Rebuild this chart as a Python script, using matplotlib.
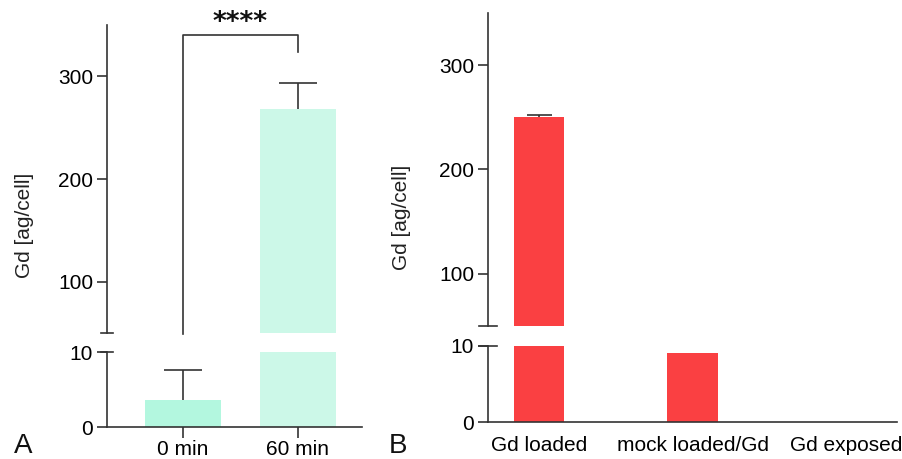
import numpy as np
import matplotlib
matplotlib.use('Agg')
import matplotlib.pyplot as plt

plt.rcParams['font.family'] = ['Liberation Sans', 'DejaVu Sans']

#%% data
a_groups = ['0 min', '60 min']
a_means = [3.6, 268]
a_err = [4.0, 26]
a_colors = ['#b3f7df', '#ccf8e8']

b_groups = ['Gd loaded', 'mock loaded/Gd', 'Gd exposed']
b_means = [250, 9.1, 0]
b_err = [2, 0, 0]
b_color = '#fa4042'

dark = '#333333'
fs = 15
lw = 1.2

fig = plt.figure(figsize=(9.03, 4.59), dpi=100)

def broken_panel(left, width, up_box, low_box, groups, means, errs, colors, barw, xlim, capsize, xticks):
    ax_up = fig.add_axes([left, up_box[0], width, up_box[1]])
    ax_lo = fig.add_axes([left, low_box[0], width, low_box[1]])
    x = np.arange(len(groups))
    for ax in (ax_up, ax_lo):
        ax.bar(x, means, width=barw, color=colors, zorder=2)
        for xi, m, e in zip(x, means, errs):
            if e > 0:
                _, caps, _ = ax.errorbar(xi, m, yerr=[[0], [e]], color=dark, elinewidth=lw,
                                         capsize=capsize, capthick=lw, zorder=3)
                caps[0].set_visible(False)  # only the upper cap
        ax.set_xlim(*xlim)
        for s in ['top', 'right']:
            ax.spines[s].set_visible(False)
        ax.spines['left'].set_linewidth(lw)
        ax.spines['left'].set_color(dark)
        ax.spines['bottom'].set_linewidth(lw)
        ax.spines['bottom'].set_color(dark)
        ax.tick_params(axis='y', length=7, width=lw, color=dark, labelsize=fs, pad=3)
    ax_up.set_ylim(50, 350)
    ax_up.set_yticks([100, 200, 300])
    ax_up.spines['bottom'].set_visible(False)
    ax_up.set_xticks([])
    ax_lo.set_ylim(0, 10)
    ax_lo.set_yticks([0, 10])
    ax_lo.set_xticks(x)
    ax_lo.set_xticklabels(groups)
    if xticks:
        ax_lo.tick_params(axis='x', length=8, width=lw, color=dark, labelsize=fs, pad=1)
    else:
        ax_lo.tick_params(axis='x', length=0, labelsize=fs, pad=10)
    # break marks
    ax_up.plot([-0.022, 0.022], [0, 0], transform=ax_up.transAxes, color=dark, lw=lw, clip_on=False)
    ax_lo.plot([-0.022, 0.022], [1, 1], transform=ax_lo.transAxes, color=dark, lw=lw, clip_on=False)
    return ax_up, ax_lo

#%% panel A
a_up, a_lo = broken_panel(0.1185, 0.2824, (0.2745, 0.671), (0.0697, 0.1634),
                          a_groups, a_means, a_err, a_colors, 0.66, (-0.661, 1.557), 14, True)

# significance bracket
a_up.plot([0, 0, 1, 1], [49, 340, 340, 324], color=dark, lw=lw, clip_on=False)
a_up.text(0.5, 345, '****', ha='center', va='baseline', fontsize=19, fontweight='bold',
          family='DejaVu Sans', color='#111111', clip_on=False)

#%% panel B
b_up, b_lo = broken_panel(0.5404, 0.453, (0.2898, 0.6819), (0.0806, 0.1656),
                          b_groups, b_means, b_err, b_color, 0.33, (-0.332, 2.33), 9, False)

# labels
fig.text(0.027, 0.51, 'Gd [ag/cell]', rotation=90, ha='center', va='center', fontsize=fs, color='#222222')
fig.text(0.445, 0.527, 'Gd [ag/cell]', rotation=90, ha='center', va='center', fontsize=fs, color='#222222')
fig.text(0.015, 0.012, 'A', fontsize=20, color='#111111')
fig.text(0.431, 0.012, 'B', fontsize=20, color='#111111')

plt.savefig('out.png', dpi=100)
